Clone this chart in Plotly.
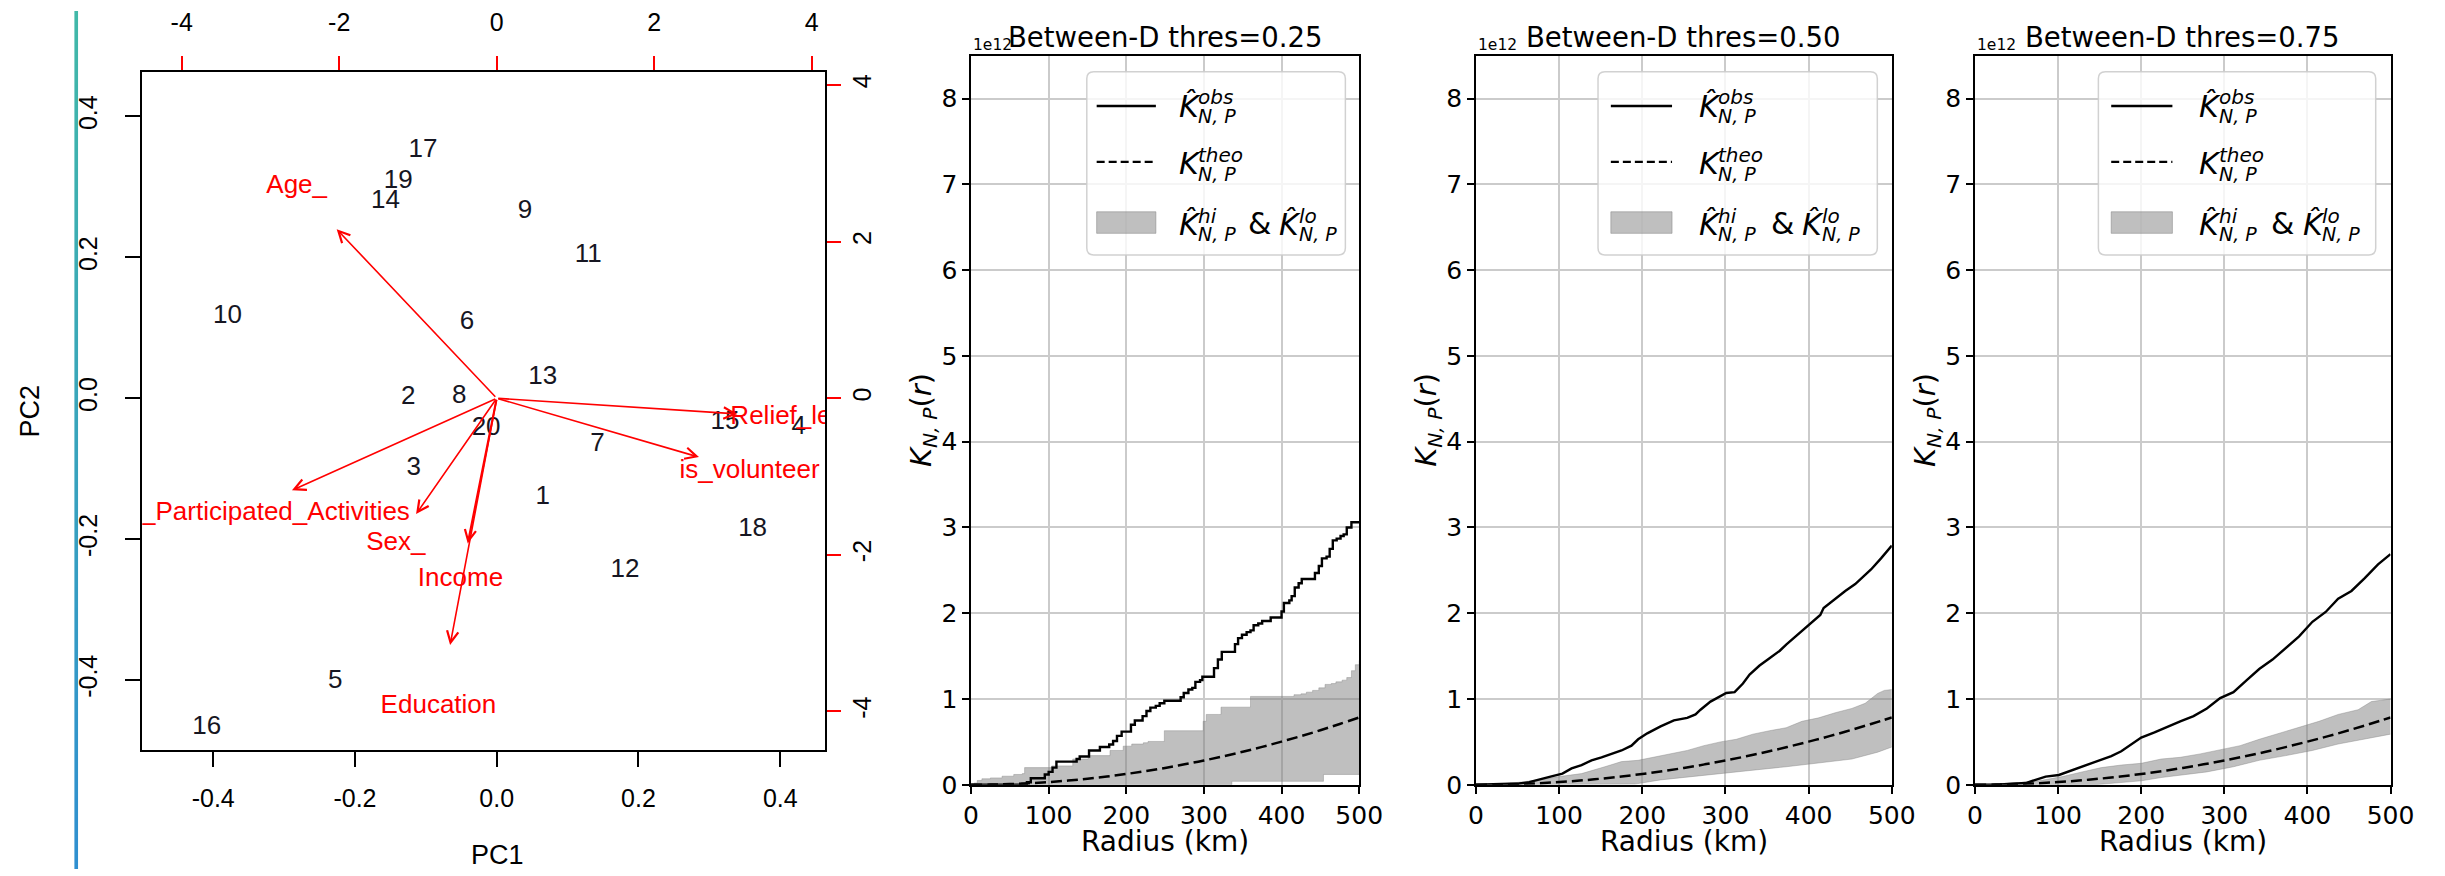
import plotly.graph_objects as go

W, H = 2445, 876

# ---------------- PCA biplot data ----------------
case_labels = ["17", "19", "14", "9", "11", "10", "6", "13", "2", "8",
               "20", "15", "4", "7", "3", "1", "18", "12", "5", "16"]
pc1_scores = [-0.104, -0.139, -0.157, 0.040, 0.129, -0.380, -0.042, 0.065, -0.125, -0.053,
              -0.015, 0.322, 0.426, 0.142, -0.117, 0.065, 0.361, 0.181, -0.228, -0.409]
pc2_scores = [0.351, 0.307, 0.279, 0.265, 0.202, 0.116, 0.107, 0.030, 0.001, 0.002,
              -0.043, -0.034, -0.042, -0.066, -0.100, -0.141, -0.187, -0.244, -0.402, -0.467]

var_names = ["Age_", "Relief_level", "is_volunteer", "No_of_Participated_Activities",
             "Sex_", "Income", "Education"]
var_load1 = [-2.54, 3.82, 3.21, -3.25, -1.28, -0.46, -0.74]
var_load2 = [2.70, -0.25, -0.94, -1.47, -1.85, -2.32, -3.94]

pc_ticks = [-0.4, -0.2, 0.0, 0.2, 0.4]
pc_ticktext = ["-0.4", "-0.2", "0.0", "0.2", "0.4"]
load_ticks = [-4, -2, 0, 2, 4]
load_ticktext = ["-4", "-2", "0", "2", "4"]

# ---------------- K-function panels data (values in 1e12) ----------------
radius_ticks = [0, 100, 200, 300, 400, 500]
k_ticks = [0, 1, 2, 3, 4, 5, 6, 7, 8]
thresholds = ["0.25", "0.50", "0.75"]

r_theo = [0, 25, 50, 75, 100, 125, 150, 175, 200, 225, 250, 275, 300, 325, 350, 375, 400, 425, 450, 475, 500]
k_theo = [0, 0.002, 0.008, 0.018, 0.031, 0.049, 0.071, 0.096, 0.126, 0.159, 0.196, 0.238, 0.283,
          0.332, 0.385, 0.442, 0.503, 0.567, 0.636, 0.709, 0.785]

r_obs_025 = [0, 60, 66, 72, 77, 90, 95, 100, 105, 110, 132, 136, 140, 148, 152, 162, 166, 175, 178, 183,
             188, 194, 202, 206, 211, 217, 221, 226, 231, 238, 243, 249, 266, 270, 274, 280, 285, 289, 295, 298,
             308, 313, 318, 323, 336, 340, 344, 349, 355, 360, 364, 370, 375, 382, 386, 395, 400, 403, 410, 413,
             417, 422, 426, 439, 443, 448, 452, 458, 462, 466, 471, 476, 480, 484, 490, 500]
k_obs_025 = [0, 0, 0.01, 0.03, 0.076, 0.076, 0.12, 0.15, 0.20, 0.27, 0.27, 0.30, 0.33, 0.33, 0.40, 0.40, 0.44, 0.44, 0.47, 0.51,
             0.57, 0.62, 0.62, 0.70, 0.75, 0.75, 0.80, 0.86, 0.90, 0.92, 0.95, 0.98, 0.98, 1.02, 1.07, 1.11, 1.13, 1.20, 1.22, 1.26,
             1.26, 1.36, 1.46, 1.55, 1.55, 1.64, 1.71, 1.75, 1.78, 1.80, 1.86, 1.88, 1.91, 1.91, 1.95, 1.95, 2.02, 2.12, 2.15, 2.20,
             2.30, 2.35, 2.40, 2.40, 2.47, 2.55, 2.64, 2.66, 2.75, 2.85, 2.87, 2.90, 2.92, 3.00, 3.06, 3.06]
r_hi_025 = [0, 4, 8, 14, 25, 40, 55, 66, 69, 100, 104, 126, 131, 147, 151, 175, 179, 192, 196, 203,
            207, 218, 222, 228, 249, 296, 299, 303, 319, 322, 356, 360, 412, 416, 425, 432, 440, 448, 456, 464,
            470, 478, 484, 490, 495, 500]
k_hi_025 = [0, 0.02, 0.05, 0.07, 0.08, 0.10, 0.12, 0.13, 0.20, 0.20, 0.22, 0.22, 0.30, 0.30, 0.34, 0.34, 0.40, 0.40, 0.45, 0.45,
            0.475, 0.475, 0.49, 0.505, 0.63, 0.63, 0.74, 0.82, 0.82, 0.905, 0.905, 1.03, 1.03, 1.05, 1.06, 1.08, 1.10, 1.13, 1.17, 1.18,
            1.20, 1.22, 1.25, 1.33, 1.40, 1.45]
r_lo_025 = [0, 336, 454, 500]
k_lo_025 = [0, 0.04, 0.12, 0.13]

r_obs_050 = [0, 30, 52, 64, 76, 92, 104, 115, 127, 139, 151, 163, 175, 187, 195, 206, 222, 238, 254, 264,
             270, 282, 294, 301, 311, 321, 329, 341, 353, 365, 373, 384, 400, 414, 418, 432, 444, 456, 468, 475,
             487, 500]
k_obs_050 = [0, 0.005, 0.015, 0.03, 0.057, 0.10, 0.13, 0.19, 0.23, 0.285, 0.32, 0.36, 0.40, 0.456, 0.53, 0.60, 0.68, 0.75, 0.78, 0.82,
             0.875, 0.97, 1.03, 1.07, 1.08, 1.18, 1.285, 1.39, 1.475, 1.56, 1.635, 1.73, 1.86, 1.98, 2.06, 2.17, 2.26, 2.34, 2.45, 2.51,
             2.64, 2.79]
r_hi_050 = [0, 30, 50, 76, 100, 127, 155, 175, 195, 214, 234, 254, 274, 294, 313, 333, 353, 373, 392, 412,
            432, 452, 468, 483, 491, 500]
k_hi_050 = [0, 0.01, 0.027, 0.057, 0.095, 0.13, 0.21, 0.27, 0.285, 0.32, 0.36, 0.40, 0.456, 0.50, 0.53, 0.59, 0.63, 0.665, 0.74, 0.78,
            0.84, 0.89, 0.95, 1.065, 1.10, 1.11]
r_lo_050 = [0, 159, 191, 222, 254, 294, 333, 373, 412, 452, 483, 500]
k_lo_050 = [0, 0.0, 0.008, 0.057, 0.087, 0.13, 0.17, 0.21, 0.25, 0.30, 0.38, 0.44]

r_obs_075 = [0, 30, 61, 73, 85, 101, 117, 133, 148, 164, 176, 188, 200, 216, 232, 247, 263, 279, 295, 311,
             327, 342, 358, 374, 390, 406, 422, 437, 453, 469, 485, 500]
k_obs_075 = [0, 0.005, 0.02, 0.057, 0.095, 0.114, 0.17, 0.22, 0.27, 0.335, 0.39, 0.475, 0.55, 0.61, 0.68, 0.74, 0.80, 0.89, 1.01, 1.08,
             1.22, 1.35, 1.46, 1.60, 1.73, 1.90, 2.015, 2.17, 2.26, 2.41, 2.57, 2.69]
r_hi_075 = [0, 30, 55, 77, 105, 129, 152, 176, 200, 224, 247, 271, 295, 319, 342, 366, 390, 414, 437, 461,
            477, 489, 500]
k_hi_075 = [0, 0.01, 0.025, 0.046, 0.095, 0.15, 0.20, 0.23, 0.25, 0.30, 0.32, 0.36, 0.41, 0.456, 0.53, 0.60, 0.665, 0.74, 0.82, 0.875,
            0.97, 0.99, 1.0]
r_lo_075 = [0, 144, 168, 200, 224, 247, 279, 311, 342, 374, 406, 437, 469, 500]
k_lo_075 = [0, 0, 0.02, 0.046, 0.084, 0.114, 0.15, 0.21, 0.285, 0.34, 0.40, 0.475, 0.53, 0.59]

panels = [
    dict(thr=thresholds[0], r_obs=r_obs_025, k_obs=k_obs_025, r_hi=r_hi_025, k_hi=k_hi_025,
         r_lo=r_lo_025, k_lo=k_lo_025, shape="hv"),
    dict(thr=thresholds[1], r_obs=r_obs_050, k_obs=k_obs_050, r_hi=r_hi_050, k_hi=k_hi_050,
         r_lo=r_lo_050, k_lo=k_lo_050, shape="linear"),
    dict(thr=thresholds[2], r_obs=r_obs_075, k_obs=k_obs_075, r_hi=r_hi_075, k_hi=k_hi_075,
         r_lo=r_lo_075, k_lo=k_lo_075, shape="linear"),
]

# ---------------- layout helpers (pixel -> paper) ----------------
def fx(p):
    return p / W


def fy(p):
    return 1 - p / H


R_FONT = "Liberation Sans, Arial, sans-serif"
M_FONT = "DejaVu Sans, sans-serif"
RED = "#ff0000"
DASH = "11px,5px"

fig = go.Figure()

# decorative gradient bar on the far left
fig.add_trace(go.Heatmap(z=[[0, 0], [1, 1]], x=[0, 1], y=[0, 1],
                         colorscale=[[0, "#2f8fd0"], [1, "#41b8a8"]], zsmooth="best",
                         showscale=False, hoverinfo="skip", xaxis="x6", yaxis="y6"))

# ---------------- biplot ----------------
pc_range = [-0.5, 0.4635]
ratio = 9.0
load_range = [pc_range[0] * ratio, pc_range[1] * ratio]
arrow_frac = 0.8

fig.add_trace(go.Scatter(x=pc1_scores, y=pc2_scores, mode="text", text=case_labels,
                         textposition="middle center",
                         textfont=dict(family=R_FONT, size=26, color="#161622"),
                         xaxis="x", yaxis="y", cliponaxis=True, hoverinfo="skip", showlegend=False))
fig.add_trace(go.Scatter(x=var_load1, y=var_load2, mode="text", text=var_names,
                         textposition="middle center",
                         textfont=dict(family=R_FONT, size=26, color=RED),
                         xaxis="x2", yaxis="y2", cliponaxis=True, hoverinfo="skip", showlegend=False))

annotations = []
for name, lx, ly in zip(var_names, var_load1, var_load2):
    annotations.append(dict(x=arrow_frac * lx, y=arrow_frac * ly, ax=0, ay=0,
                            xref="x2", yref="y2", axref="x2", ayref="y2", text="",
                            showarrow=True, arrowhead=5, arrowsize=1.4 if name != "Income" else 1.05,
                            arrowwidth=2.1 if name == "Income" else 1.6,
                            arrowcolor=RED, standoff=0, startstandoff=0))

annotations.append(dict(x=fx(488), y=fy(862), xref="paper", yref="paper", text="PC1",
                        showarrow=False, font=dict(family=R_FONT, size=27, color="black"),
                        xanchor="center", yanchor="middle"))
annotations.append(dict(x=fx(14), y=fy(408), xref="paper", yref="paper", text="PC2",
                        showarrow=False, textangle=-90, font=dict(family=R_FONT, size=27, color="black"),
                        xanchor="center", yanchor="middle"))

rtick = dict(family=R_FONT, size=25, color="black")
layout_axes = dict(
    xaxis=dict(domain=[fx(128), fx(820)], range=pc_range, anchor="y", tickmode="array",
               tickvals=pc_ticks, ticktext=pc_ticktext, ticks="outside", ticklen=15, tickwidth=1.5,
               tickcolor="black", showline=True, linecolor="black", linewidth=2, showgrid=False,
               zeroline=False, tickfont=rtick, ticklabelstandoff=10),
    yaxis=dict(domain=[fy(755), fy(62)], range=pc_range, anchor="x", tickmode="array",
               tickvals=pc_ticks, ticktext=pc_ticktext, ticks="outside", ticklen=15, tickwidth=1.5,
               tickcolor="black", showline=True, linecolor="black", linewidth=2, showgrid=False,
               zeroline=False, tickfont=rtick, tickangle=-90, ticklabelstandoff=18),
    xaxis2=dict(overlaying="x", side="top", anchor="y", range=load_range, tickmode="array",
                tickvals=load_ticks, ticktext=load_ticktext, ticks="outside", ticklen=14, tickwidth=1.5,
                tickcolor=RED, showline=True, linecolor="black", linewidth=2, showgrid=False,
                zeroline=False, tickfont=rtick, ticklabelstandoff=15),
    yaxis2=dict(overlaying="y", side="right", anchor="x", range=load_range, tickmode="array",
                tickvals=load_ticks, ticktext=load_ticktext, ticks="outside", ticklen=14, tickwidth=1.5,
                tickcolor=RED, showline=True, linecolor="black", linewidth=2, showgrid=False,
                zeroline=False, tickfont=rtick, tickangle=-90),
    xaxis6=dict(domain=[fx(59), fx(63)], range=[0, 1], visible=False, anchor="y6"),
    yaxis6=dict(domain=[0, 1], range=[0, 1], visible=False, anchor="x6"),
)

# ---------------- K-function panels ----------------
panel_px = [(967.7, 1361.0), (1479.3, 1900.7), (1985.0, 2406.0)]
legend_px = [(1085, 1347), (1603, 1886), (2110, 2391)]
p_top, p_bot = 45.7, 790.0
band_fill = "rgba(128,128,128,0.5)"
shapes = []

for i, (pn, (L, Rr), (lgL, lgR)) in enumerate(zip(panels, panel_px, legend_px)):
    xa, ya = "x%d" % (i + 3), "y%d" % (i + 3)
    fig.add_trace(go.Scatter(x=pn["r_lo"], y=pn["k_lo"], mode="lines", line=dict(color=band_fill, width=0.8, shape=pn["shape"]),
                             xaxis=xa, yaxis=ya, showlegend=False, hoverinfo="skip"))
    fig.add_trace(go.Scatter(x=pn["r_hi"], y=pn["k_hi"], mode="lines", line=dict(color=band_fill, width=0.8, shape=pn["shape"]),
                             fill="tonexty", fillcolor=band_fill, xaxis=xa, yaxis=ya, showlegend=False, hoverinfo="skip"))
    fig.add_trace(go.Scatter(x=r_theo, y=k_theo, mode="lines", line=dict(color="black", width=2.5, dash=DASH, shape="spline"),
                             xaxis=xa, yaxis=ya, showlegend=False, hoverinfo="skip"))
    fig.add_trace(go.Scatter(x=pn["r_obs"], y=pn["k_obs"], mode="lines", line=dict(color="black", width=2.4, shape=pn["shape"]),
                             xaxis=xa, yaxis=ya, showlegend=False, hoverinfo="skip"))

    mfont = dict(family=M_FONT, size=25, color="black")
    layout_axes["xaxis%d" % (i + 3)] = dict(
        domain=[fx(L), fx(Rr)], range=[0, 500], anchor=ya, tickmode="array", tickvals=radius_ticks,
        showgrid=True, gridcolor="#cbcbcb", gridwidth=1.5, showline=True, linecolor="black", linewidth=1.5,
        mirror=True, ticks="outside", ticklen=7, tickwidth=1.5, tickcolor="black", zeroline=False, tickfont=mfont)
    layout_axes["yaxis%d" % (i + 3)] = dict(
        domain=[fy(p_bot), fy(p_top)], range=[0, 8.5], anchor=xa, tickmode="array", tickvals=k_ticks,
        showgrid=True, gridcolor="#cbcbcb", gridwidth=1.5, showline=True, linecolor="black", linewidth=1.5,
        mirror=True, ticks="outside", ticklen=7, tickwidth=1.5, tickcolor="black", zeroline=False, tickfont=mfont)

    cx = (L + Rr) / 2
    annotations.append(dict(x=fx(cx), y=fy(27), xref="paper", yref="paper", text="Between-D thres=" + pn["thr"],
                            showarrow=False, font=dict(family=M_FONT, size=27.5, color="black"),
                            xanchor="center", yanchor="middle"))
    annotations.append(dict(x=fx(L), y=fy(35), xref="paper", yref="paper", text="1e12",
                            showarrow=False, font=dict(family=M_FONT, size=15.5, color="black"),
                            xanchor="left", yanchor="middle"))
    annotations.append(dict(x=fx(cx), y=fy(848), xref="paper", yref="paper", text="Radius (km)",
                            showarrow=False, font=dict(family=M_FONT, size=28, color="black"),
                            xanchor="center", yanchor="middle"))
    annotations.append(dict(x=fx(L - 48), y=fy((p_top + p_bot) / 2), xref="paper", yref="paper",
                            text="<i>K</i><sub><i>N, P</i></sub>(<i>r</i>)", textangle=-90,
                            showarrow=False, font=dict(family=M_FONT, size=29, color="black"),
                            xanchor="center", yanchor="middle"))

    # legend frame (rounded)
    t, b, rad = 62, 249, 7
    rx, ry = rad / W, rad / H
    x0, x1, y0, y1 = fx(lgL), fx(lgR), fy(b), fy(t)
    path = ("M %f,%f L %f,%f Q %f,%f %f,%f L %f,%f Q %f,%f %f,%f L %f,%f Q %f,%f %f,%f L %f,%f Q %f,%f %f,%f Z" % (
        x0 + rx, y0, x1 - rx, y0, x1, y0, x1, y0 + ry, x1, y1 - ry, x1, y1, x1 - rx, y1,
        x0 + rx, y1, x0, y1, x0, y1 - ry, x0, y0 + ry, x0, y0, x0 + rx, y0))
    shapes.append(dict(type="path", path=path, xref="paper", yref="paper",
                       fillcolor="rgba(255,255,255,0.8)", line=dict(color="rgba(204,204,204,0.9)", width=1.5)))
    hx0 = lgL + (10 if i == 0 else 13)
    hx1 = hx0 + (60 if i == 0 else 62)
    shapes.append(dict(type="line", xref="paper", yref="paper", x0=fx(hx0), x1=fx(hx1), y0=fy(97), y1=fy(97),
                       line=dict(color="black", width=2.4)))
    shapes.append(dict(type="line", xref="paper", yref="paper", x0=fx(hx0), x1=fx(hx1), y0=fy(154), y1=fy(154),
                       line=dict(color="black", width=2.4, dash="8px,4px")))
    shapes.append(dict(type="rect", xref="paper", yref="paper", x0=fx(hx0), x1=fx(hx1), y0=fy(227), y1=fy(205),
                       fillcolor=band_fill, line=dict(color=band_fill, width=1)))

    ts = hx1 + (22 if i == 0 else 26)
    amp_off = 70 if i == 0 else 73
    k2_off = 102 if i == 0 else 105

    def kterm(x, yc, hat, sup):
        annotations.append(dict(x=fx(x), y=fy(yc), xref="paper", yref="paper",
                                text="<i>K\u0302</i>" if hat else "<i>K</i>", showarrow=False,
                                font=dict(family=M_FONT, size=30, color="black"),
                                xanchor="left", yanchor="middle", borderpad=0))
        annotations.append(dict(x=fx(x + 20), y=fy(yc - 9), xref="paper", yref="paper",
                                text="<i>%s</i>" % sup, showarrow=False,
                                font=dict(family=M_FONT, size=20, color="black"),
                                xanchor="left", yanchor="middle", borderpad=0))
        annotations.append(dict(x=fx(x + 20), y=fy(yc + 10), xref="paper", yref="paper",
                                text="<i>N, P</i>", showarrow=False,
                                font=dict(family=M_FONT, size=19, color="black"),
                                xanchor="left", yanchor="middle", borderpad=0))

    kterm(ts, 97, True, "obs")
    kterm(ts, 156, False, "theo")
    kterm(ts, 218, True, "hi")
    annotations.append(dict(x=fx(ts + amp_off), y=fy(217), xref="paper", yref="paper", text="&",
                            showarrow=False, font=dict(family=M_FONT, size=30, color="black"),
                            xanchor="left", yanchor="middle", borderpad=0))
    kterm(ts + k2_off, 218, True, "lo")

fig.update_layout(
    width=W, height=H, autosize=False,
    margin=dict(l=0, r=0, t=0, b=0),
    paper_bgcolor="white", plot_bgcolor="white",
    showlegend=False,
    annotations=annotations, shapes=shapes,
    **layout_axes,
)

fig.write_html("out.html", config={"displayModeBar": False})
